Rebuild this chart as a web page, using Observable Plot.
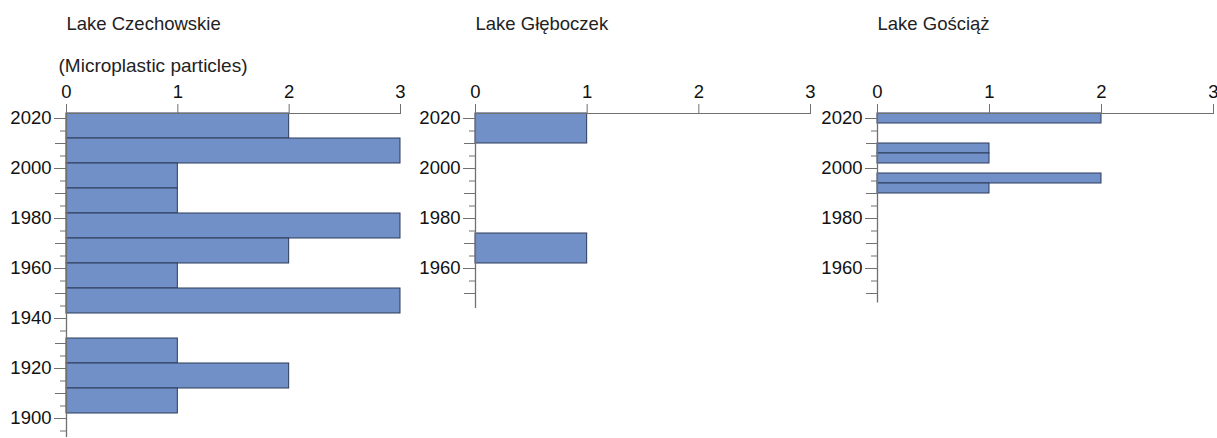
<!DOCTYPE html>
<html>
<head>
<meta charset="utf-8">
<script src="https://cdn.jsdelivr.net/npm/d3@7"></script>
<script src="https://cdn.jsdelivr.net/npm/@observablehq/plot@0.6"></script>
<style>
  html, body { margin: 0; padding: 0; background: #fff; }
  #row { display: flex; flex-direction: row; align-items: flex-start; width: 1217px; height: 438px; }
  svg { overflow: visible; }
</style>
</head>
<body>
<div id="row"></div>
<script>
// ---- Data ----
const lakes = ["Lake Czechowskie", "Lake Głęboczek", "Lake Gościąż"];
const xLabel = "(Microplastic particles)";
const xTicks = [0, 1, 2, 3];
const yearTicks = [2020, 2000, 1980, 1960, 1940, 1920, 1900];

// Lake Czechowskie: layer top year, bottom year, particle count
const czechTop    = [2022, 2012, 2002, 1992, 1982, 1972, 1962, 1952, 1932, 1922, 1912];
const czechBottom = [2012, 2002, 1992, 1982, 1972, 1962, 1952, 1942, 1922, 1912, 1902];
const czechValue  = [2, 3, 1, 1, 3, 2, 1, 3, 1, 2, 1];

// Lake Głęboczek
const glebTop    = [2022, 1974];
const glebBottom = [2010, 1962];
const glebValue  = [1, 1];

// Lake Gościąż
const goscTop    = [2022, 2010, 2006, 1998, 1994];
const goscBottom = [2018, 2006, 2002, 1994, 1990];
const goscValue  = [2, 1, 1, 2, 1];

// Lowest year shown on each year axis
const axisBottomYear = [1892.4, 1944, 1946.2];
const axisTopYear = 2022;

// ---- Drawing ----
const fill = "#7190c8";
const barStroke = "#2c3a58";
const axisGray = "#707070";
const font = "Arial, 'Liberation Sans', Helvetica, sans-serif";
const tickFont = 18.5;

function rows(top, bottom, value) {
  return top.map((t, i) => ({top: t, bottom: bottom[i], value: value[i]}));
}

const panels = [
  {title: lakes[0], data: rows(czechTop, czechBottom, czechValue), width: 410, ml: 66, mr: 10, mb: 1, lowTick: 1895, showLabel: true},
  {title: lakes[1], data: rows(glebTop, glebBottom, glebValue), width: 410, ml: 65, mr: 10, mb: 130, lowTick: 1950, showLabel: false},
  {title: lakes[2], data: rows(goscTop, goscBottom, goscValue), width: 397, ml: 57, mr: 4, mb: 135.5, lowTick: 1950, showLabel: false}
];

const row = document.getElementById("row");

panels.forEach((p, i) => {
  const lo = axisBottomYear[i];
  const major = yearTicks.filter(y => y >= lo);
  const all5 = d3.range(2020, p.lowTick - 1, -5);
  const ten = all5.filter(y => y % 10 === 0 && y % 20 !== 0);
  const five = all5.filter(y => y % 10 !== 0);

  const marks = [
    Plot.rect(p.data, {x1: 0, x2: "value", y1: "bottom", y2: "top", fill, stroke: barStroke, strokeWidth: 1}),
    Plot.ruleY([axisTopYear], {stroke: axisGray, strokeWidth: 1}),
    Plot.ruleX([0], {stroke: axisGray, strokeWidth: 1.3}),
    Plot.axisX(xTicks, {anchor: "top", label: null, tickSize: 10, tickPadding: 6, stroke: axisGray, fill: "#111", fontSize: tickFont, tickFormat: d => d}),
    Plot.axisY(major, {anchor: "left", label: null, tickSize: 12, tickPadding: 3, stroke: axisGray, fill: "#111", fontSize: tickFont, tickFormat: d => String(d)}),
    Plot.axisY(ten, {anchor: "left", label: null, tickSize: 11, stroke: axisGray, text: null}),
    Plot.axisY(five, {anchor: "left", label: null, tickSize: 6, stroke: axisGray, text: null}),
    Plot.text([p.title], {frameAnchor: "top-left", lineAnchor: "middle", textAnchor: "start", dy: -89.5, fontSize: 18.5, fill: "#222"})
  ];
  if (p.showLabel) {
    marks.push(Plot.text([xLabel], {frameAnchor: "top-left", lineAnchor: "middle", textAnchor: "start", dx: -8, dy: -48, fontSize: 19, fill: "#222"}));
  }

  const chart = Plot.plot({
    width: p.width,
    height: 438,
    marginTop: 113,
    marginBottom: p.mb,
    marginLeft: p.ml,
    marginRight: p.mr,
    style: {fontFamily: font, fontSize: "18px", background: "transparent", overflow: "visible"},
    x: {domain: [0, 3], label: null},
    y: {domain: [lo, axisTopYear], label: null},
    marks
  });
  row.appendChild(chart);
});
</script>
</body>
</html>
